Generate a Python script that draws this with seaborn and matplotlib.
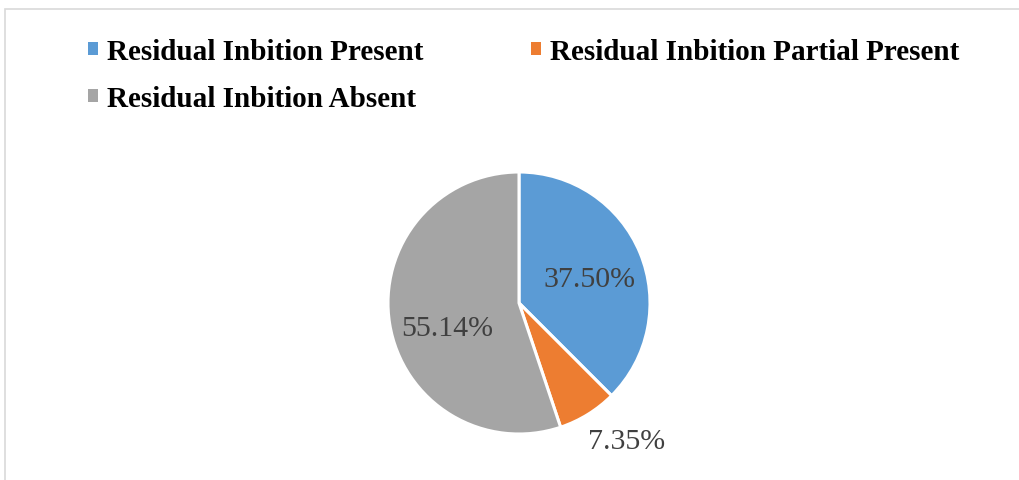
import matplotlib
matplotlib.use("Agg")
import matplotlib.pyplot as plt
from matplotlib.patches import Patch, Rectangle
import seaborn as sns

sns.set_theme(style="white")
plt.rcParams['font.family'] = ['Liberation Serif', 'DejaVu Serif']

categories = ["Residual Inbition Present", "Residual Inbition Partial Present", "Residual Inbition Absent"]
values = [37.50, 7.35, 55.14]
colors = ["#5B9BD5", "#ED7D31", "#A5A5A5"]
# label anchor points in pie units (radius = 1)
label_pos = [(0.54, 0.18), (0.82, -1.05), (-0.55, -0.19)]

fig = plt.figure(figsize=(10.2, 4.81), dpi=100)
fig.patch.set_facecolor("white")

# chart frame
fig.add_artist(Rectangle((5 / 1020, -0.05), 1.1, 1 - 10 / 481 + 0.05, transform=fig.transFigure,
                         fill=False, edgecolor="#D9D9D9", linewidth=1.2))

r_px = 131
cx, cy = 519, 304
ax = fig.add_axes([(cx - r_px) / 1020, 1 - (cy + r_px) / 481, 2 * r_px / 1020, 2 * r_px / 481])
wedges, _ = ax.pie(values, colors=colors, startangle=90, counterclock=False,
                   wedgeprops=dict(edgecolor="white", linewidth=2.2), radius=1)
ax.set_xlim(-1, 1)
ax.set_ylim(-1, 1)
ax.set_aspect("auto")
ax.axis("off")

for v, (x, y) in zip(values, label_pos):
    ax.text(x, y, f"{v:.2f}%", ha="center", va="center", fontsize=21.5, color="#404040",
            clip_on=False)

order = [0, 2, 1]
handles = [Patch(facecolor=colors[i], edgecolor="none") for i in order]
labels = [categories[i] for i in order]
leg = fig.legend(handles, labels, loc="upper left", bbox_to_anchor=(88 / 1020, 1 - 39 / 481),
                 ncol=2, frameon=False, borderpad=0, borderaxespad=0,
                 handlelength=0.34, handleheight=0.34,
                 handletextpad=0.3, columnspacing=3.7, labelspacing=0.68,
                 labelcolor="black",
                 prop=dict(family="Liberation Serif", weight="bold", size=21))

fig.savefig("out.png", dpi=100, facecolor="white")
